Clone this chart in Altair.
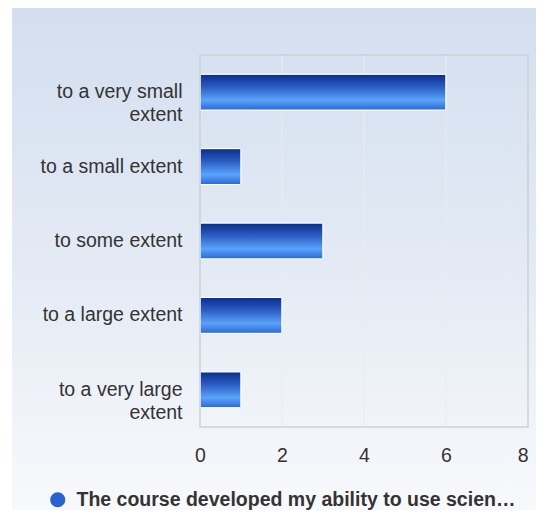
import altair as alt
import pandas as pd

categories = ["to a very small extent", "to a small extent", "to some extent",
              "to a large extent", "to a very large extent"]
counts = [6, 1, 3, 2, 1]
series_name = "The course developed my ability to use scien…"
x_ticks = [0, 2, 4, 6, 8]
grid_values = [2, 4, 6]

W, H = 328, 372
TOP = 47          # background space above the plot
BOTTOM = 83       # background space below the plot
FONT = "Liberation Sans"
FS = 19.5

bars_df = pd.DataFrame({"category": categories, "count": counts})
grid_df = pd.DataFrame({"count": grid_values})
legend_df = pd.DataFrame({"series": [series_name]})

bg_grad = alt.LinearGradient(
    gradient="linear", x1=0, y1=0, x2=0, y2=1,
    stops=[alt.GradientStop(color="#d3dff0", offset=0),
           alt.GradientStop(color="#e3eaf4", offset=0.5),
           alt.GradientStop(color="#f8f9fc", offset=1)])

bar_grad = alt.LinearGradient(
    gradient="linear", x1=0, y1=0, x2=0, y2=1,
    stops=[alt.GradientStop(color="#0a2d8a", offset=0),
           alt.GradientStop(color="#2a5cc2", offset=0.35),
           alt.GradientStop(color="#5aa3fb", offset=0.72),
           alt.GradientStop(color="#2a68d2", offset=1)])

bg = alt.Chart(alt.Data(values=[{}])).mark_rect(fill=bg_grad, clip=False).encode(
    x=alt.value(-188), x2=alt.value(W + 8),
    y=alt.value(-TOP), y2=alt.value(H + BOTTOM))

xscale = alt.Scale(domain=[0, 8])

label_expr = ("datum.label == 'to a very small extent' ? ['to a very small', 'extent'] : "
              "datum.label == 'to a very large extent' ? ['to a very large', 'extent'] : datum.label")

legend_kw = dict(title=None, orient="none", legendX=-152, legendY=H + 63,
                 symbolType="circle", symbolSize=230,
                 symbolOpacity=1, symbolStrokeWidth=0,
                 labelFont=FONT, labelFontSize=FS,
                 labelFontWeight="bold", labelColor="#333333",
                 labelLimit=600, labelOffset=9, padding=0)


def build(fancy):
    ax_kw = dict(title=None, values=x_ticks, grid=False, domain=False, ticks=False,
                 labelFontSize=FS, labelColor="#333333", labelFont=FONT,
                 labelPadding=19, labelFlush=False, format="d", zindex=1)
    if fancy:
        ax_kw["labelAlign"] = alt.ConditionalAxisLabelAlign(
            condition={"test": "datum.value >= 8", "value": "right"}, value="center")
    xaxis = alt.Axis(**ax_kw)

    grid = alt.Chart(grid_df).mark_rule(color="#e9ecf1", strokeWidth=1).encode(
        x=alt.X("count:Q", scale=xscale, axis=xaxis),
        y=alt.value(0), y2=alt.value(H))

    bars = alt.Chart(bars_df).mark_bar(
        fill=bar_grad, stroke="#ffffff", strokeWidth=1, cornerRadiusEnd=2
    ).encode(
        x=alt.X("count:Q", scale=xscale, axis=xaxis),
        y=alt.Y("category:N", sort=categories,
                scale=alt.Scale(paddingInner=0.516, paddingOuter=0.258),
                axis=alt.Axis(title=None, domain=False, ticks=False, grid=False,
                              labelFontSize=FS, labelColor="#333333", labelFont=FONT,
                              labelPadding=18, labelLimit=220, labelLineHeight=23,
                              labelExpr=label_expr, zindex=1)),
    )

    border = alt.Chart(alt.Data(values=[{}])).mark_rect(
        filled=False, stroke="#cdcfd3", strokeWidth=1.5
    ).encode(x=alt.value(0), x2=alt.value(W), y=alt.value(0), y2=alt.value(H))

    legend_layer = alt.Chart(legend_df).mark_point(filled=True, opacity=0).encode(
        color=alt.Color("series:N", scale=alt.Scale(range=["#2a62d0"]),
                        legend=alt.Legend(**legend_kw))
    )
    return alt.layer(bg, grid, bars, border, legend_layer).properties(
        width=W, height=H,
        padding={"left": 4, "top": 0, "right": 0, "bottom": 0}
    ).configure_view(strokeWidth=0)


try:
    chart = build(True)
    chart.to_dict()
except Exception:
    chart = build(False)

chart.save("out.html", embed_options={"renderer": "svg", "actions": False})
